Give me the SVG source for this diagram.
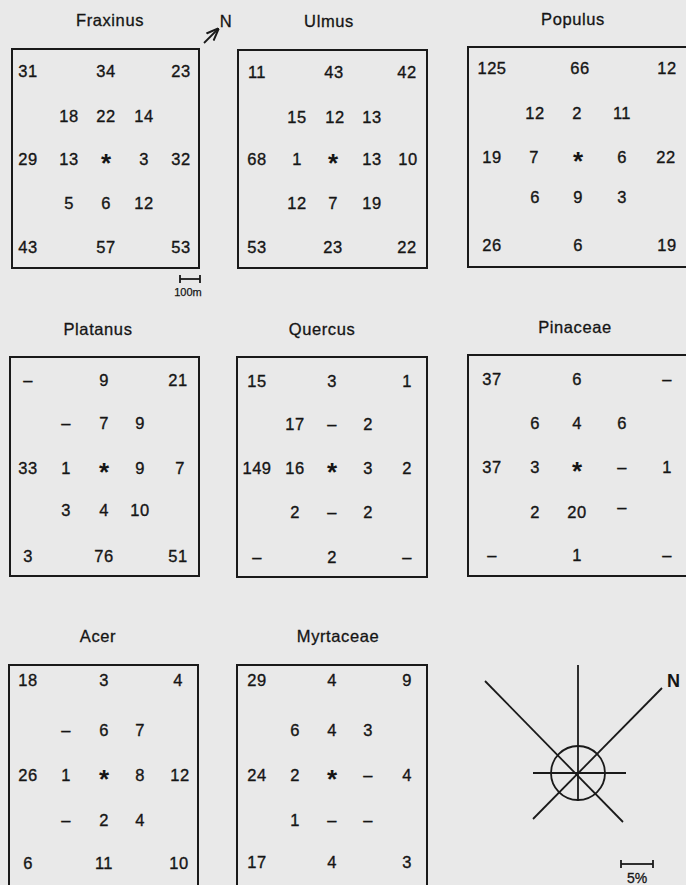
<svg xmlns="http://www.w3.org/2000/svg" width="686" height="885" viewBox="0 0 686 885">
<style>
.bg{fill:#e9e9e9}
.box{fill:none;stroke:#1a1a1a;stroke-width:2}
.t{font-family:"Liberation Sans","DejaVu Sans",sans-serif;font-size:16.5px;letter-spacing:0.6px;fill:#151515;stroke:#151515;stroke-width:0.3;text-anchor:middle}
.n{font-family:"Liberation Sans","DejaVu Sans",sans-serif;font-size:16.5px;letter-spacing:0.5px;fill:#151515;stroke:#151515;stroke-width:0.35;text-anchor:middle}
.s{font-family:"Liberation Sans","DejaVu Sans",sans-serif;font-size:26px;font-weight:bold;fill:#151515;text-anchor:middle}
.ln{stroke:#1a1a1a;stroke-width:1.8;fill:none}
.sm{font-family:"Liberation Sans","DejaVu Sans",sans-serif;font-size:11px;fill:#151515;stroke:#151515;stroke-width:0.25;text-anchor:middle}
.sm2{font-family:"Liberation Sans","DejaVu Sans",sans-serif;font-size:14px;fill:#151515;stroke:#151515;stroke-width:0.3;text-anchor:middle}
.nb{font-family:"Liberation Sans","DejaVu Sans",sans-serif;font-size:18px;font-weight:bold;fill:#151515}
</style>
<defs>
<marker id="ah" viewBox="0 0 10 10" refX="9" refY="5" markerWidth="7" markerHeight="7" orient="auto"><path d="M0,1 L10,5 L0,9" fill="none" stroke="#1a1a1a" stroke-width="1.6"/></marker>
</defs>
<rect class="bg" x="0" y="0" width="686" height="885"/>

<g id="fraxinus">
<text class="t" x="110" y="26">Fraxinus</text>
<rect class="box" x="12" y="49" width="187" height="219"/>
<text class="n" x="28" y="77">31</text><text class="n" x="106" y="77">34</text><text class="n" x="181" y="77">23</text>
<text class="n" x="69" y="122">18</text><text class="n" x="106" y="122">22</text><text class="n" x="144" y="122">14</text>
<text class="n" x="28" y="165">29</text><text class="n" x="69" y="165">13</text><text class="s" x="106" y="172">*</text><text class="n" x="144" y="165">3</text><text class="n" x="181" y="165">32</text>
<text class="n" x="69" y="209">5</text><text class="n" x="106" y="209">6</text><text class="n" x="144" y="209">12</text>
<text class="n" x="28" y="253">43</text><text class="n" x="106" y="253">57</text><text class="n" x="181" y="253">53</text>
</g>

<g id="north-arrow">
<line class="ln" x1="204" y1="43" x2="218" y2="29" marker-end="url(#ah)"/>
<text class="t" x="226" y="27">N</text>
</g>

<g id="scale-100m">
<line class="ln" x1="180" y1="279" x2="200" y2="279"/>
<line class="ln" x1="180" y1="275" x2="180" y2="283"/>
<line class="ln" x1="200" y1="275" x2="200" y2="283"/>
<text class="sm" x="188" y="296">100m</text>
</g>

<g id="ulmus">
<text class="t" x="329" y="27">Ulmus</text>
<rect class="box" x="238" y="50" width="189" height="218"/>
<text class="n" x="257" y="78">11</text><text class="n" x="334" y="78">43</text><text class="n" x="407" y="78">42</text>
<text class="n" x="297" y="123">15</text><text class="n" x="335" y="123">12</text><text class="n" x="372" y="123">13</text>
<text class="n" x="257" y="165">68</text><text class="n" x="297" y="165">1</text><text class="s" x="333" y="172">*</text><text class="n" x="372" y="165">13</text><text class="n" x="408" y="165">10</text>
<text class="n" x="297" y="209">12</text><text class="n" x="333" y="209">7</text><text class="n" x="372" y="209">19</text>
<text class="n" x="257" y="253">53</text><text class="n" x="333" y="253">23</text><text class="n" x="407" y="253">22</text>
</g>

<g id="populus">
<text class="t" x="573" y="25">Populus</text>
<rect class="box" x="468" y="47" width="230" height="220"/>
<text class="n" x="492" y="74">125</text><text class="n" x="580" y="74">66</text><text class="n" x="667" y="74">12</text>
<text class="n" x="535" y="119">12</text><text class="n" x="577" y="119">2</text><text class="n" x="622" y="119">11</text>
<text class="n" x="492" y="163">19</text><text class="n" x="534" y="163">7</text><text class="s" x="578" y="170">*</text><text class="n" x="622" y="163">6</text><text class="n" x="666" y="163">22</text>
<text class="n" x="535" y="203">6</text><text class="n" x="578" y="203">9</text><text class="n" x="622" y="203">3</text>
<text class="n" x="492" y="251">26</text><text class="n" x="578" y="251">6</text><text class="n" x="667" y="251">19</text>
</g>

<g id="platanus">
<text class="t" x="98" y="335">Platanus</text>
<rect class="box" x="10" y="357" width="189" height="219"/>
<text class="n" x="28" y="386">–</text><text class="n" x="104" y="386">9</text><text class="n" x="178" y="386">21</text>
<text class="n" x="66" y="429">–</text><text class="n" x="104" y="429">7</text><text class="n" x="140" y="429">9</text>
<text class="n" x="28" y="474">33</text><text class="n" x="66" y="474">1</text><text class="s" x="104" y="481">*</text><text class="n" x="140" y="474">9</text><text class="n" x="180" y="474">7</text>
<text class="n" x="66" y="516">3</text><text class="n" x="104" y="516">4</text><text class="n" x="140" y="516">10</text>
<text class="n" x="28" y="562">3</text><text class="n" x="104" y="562">76</text><text class="n" x="178" y="562">51</text>
</g>

<g id="quercus">
<text class="t" x="322" y="335">Quercus</text>
<rect class="box" x="237" y="357" width="190" height="220"/>
<text class="n" x="257" y="387">15</text><text class="n" x="332" y="387">3</text><text class="n" x="407" y="387">1</text>
<text class="n" x="295" y="430">17</text><text class="n" x="332" y="430">–</text><text class="n" x="368" y="430">2</text>
<text class="n" x="257" y="474">149</text><text class="n" x="295" y="474">16</text><text class="s" x="332" y="481">*</text><text class="n" x="368" y="474">3</text><text class="n" x="407" y="474">2</text>
<text class="n" x="295" y="518">2</text><text class="n" x="332" y="518">–</text><text class="n" x="368" y="518">2</text>
<text class="n" x="257" y="563">–</text><text class="n" x="332" y="563">2</text><text class="n" x="407" y="563">–</text>
</g>

<g id="pinaceae">
<text class="t" x="575" y="333">Pinaceae</text>
<rect class="box" x="468" y="355" width="230" height="221"/>
<text class="n" x="492" y="385">37</text><text class="n" x="577" y="385">6</text><text class="n" x="667" y="385">–</text>
<text class="n" x="535" y="429">6</text><text class="n" x="577" y="429">4</text><text class="n" x="622" y="429">6</text>
<text class="n" x="492" y="473">37</text><text class="n" x="535" y="473">3</text><text class="s" x="577" y="480">*</text><text class="n" x="622" y="473">–</text><text class="n" x="667" y="473">1</text>
<text class="n" x="535" y="518">2</text><text class="n" x="577" y="518">20</text><text class="n" x="622" y="513">–</text>
<text class="n" x="492" y="561">–</text><text class="n" x="577" y="561">1</text><text class="n" x="667" y="561">–</text>
</g>

<g id="acer">
<text class="t" x="98" y="642">Acer</text>
<rect class="box" x="9" y="665" width="189" height="230"/>
<text class="n" x="28" y="686">18</text><text class="n" x="104" y="686">3</text><text class="n" x="178" y="686">4</text>
<text class="n" x="66" y="736">–</text><text class="n" x="104" y="736">6</text><text class="n" x="140" y="736">7</text>
<text class="n" x="28" y="781">26</text><text class="n" x="66" y="781">1</text><text class="s" x="104" y="788">*</text><text class="n" x="140" y="781">8</text><text class="n" x="180" y="781">12</text>
<text class="n" x="66" y="826">–</text><text class="n" x="104" y="826">2</text><text class="n" x="140" y="826">4</text>
<text class="n" x="28" y="869">6</text><text class="n" x="104" y="869">11</text><text class="n" x="179" y="869">10</text>
</g>

<g id="myrtaceae">
<text class="t" x="338" y="642">Myrtaceae</text>
<rect class="box" x="237" y="665" width="190" height="230"/>
<text class="n" x="257" y="686">29</text><text class="n" x="332" y="686">4</text><text class="n" x="407" y="686">9</text>
<text class="n" x="295" y="736">6</text><text class="n" x="332" y="736">4</text><text class="n" x="368" y="736">3</text>
<text class="n" x="257" y="781">24</text><text class="n" x="295" y="781">2</text><text class="s" x="332" y="788">*</text><text class="n" x="368" y="781">–</text><text class="n" x="407" y="781">4</text>
<text class="n" x="295" y="826">1</text><text class="n" x="332" y="826">–</text><text class="n" x="368" y="826">–</text>
<text class="n" x="257" y="868">17</text><text class="n" x="332" y="868">4</text><text class="n" x="407" y="868">3</text>
</g>

<g id="wind-rose">
<circle class="ln" cx="578" cy="773" r="27"/>
<line class="ln" x1="578" y1="665" x2="578" y2="801"/>
<line class="ln" x1="533" y1="773" x2="626" y2="773"/>
<line class="ln" x1="533" y1="819" x2="662" y2="688"/>
<line class="ln" x1="485" y1="681" x2="623" y2="822"/>
<text class="nb" x="667" y="687">N</text>
<line class="ln" x1="621" y1="864" x2="653" y2="864"/>
<line class="ln" x1="621" y1="860" x2="621" y2="868"/>
<line class="ln" x1="653" y1="860" x2="653" y2="868"/>
<text class="sm2" x="637" y="883">5%</text>
</g>
</svg>
